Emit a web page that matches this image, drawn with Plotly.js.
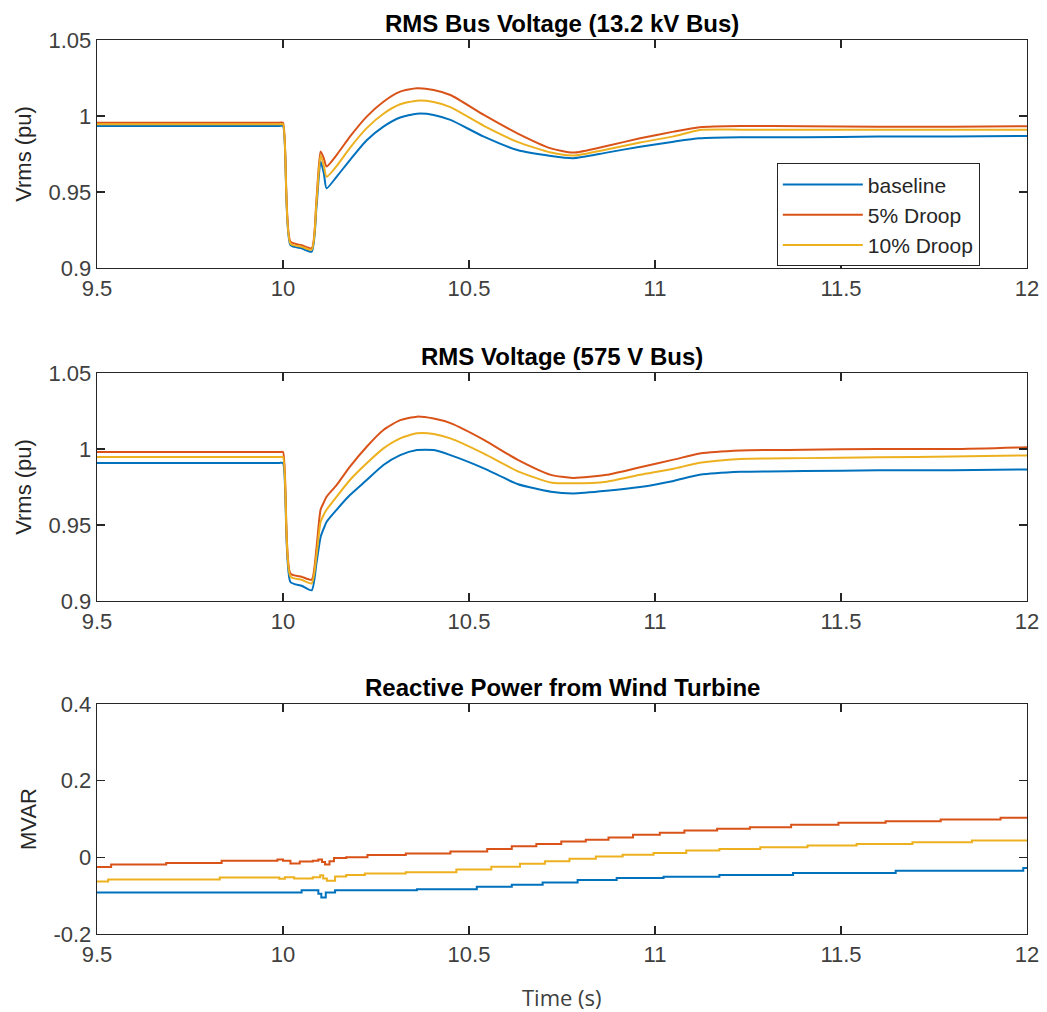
<!DOCTYPE html>
<html>
<head>
<meta charset="utf-8">
<script src="https://cdn.plot.ly/plotly-3.0.1.min.js"></script>
<style>html,body{margin:0;padding:0;background:#fff;}#chart{width:1047px;height:1012px;}</style>
</head>
<body>
<div id="chart"></div>
<script>
// ---------- data ----------
const seriesNames = ["baseline", "5% Droop", "10% Droop"];

// time samples for the voltage traces (s)
const tV = [9.5, 9.99, 10.0, 10.02, 10.05, 10.077, 10.09, 10.101, 10.11, 10.117, 10.144, 10.18, 10.225, 10.27, 10.315, 10.36, 10.405, 10.45, 10.54, 10.63, 10.72, 10.78, 10.87, 10.96, 11.05, 11.12, 11.23, 11.4, 11.6, 11.8, 12.0];

// RMS Bus Voltage (13.2 kV Bus), pu
const v13Baseline = [0.9934, 0.9934, 0.9934, 0.915, 0.913, 0.9107, 0.94, 0.970, 0.962, 0.9524, 0.960, 0.971, 0.984, 0.993, 0.999, 1.0015, 1.0007, 0.9974, 0.9864, 0.9776, 0.9737, 0.9722, 0.9759, 0.9798, 0.9831, 0.9853, 0.986, 0.986, 0.9865, 0.9865, 0.9868];
const v13Droop5 = [0.9956, 0.9956, 0.9956, 0.9173, 0.915, 0.913, 0.945, 0.9766, 0.972, 0.9667, 0.9743, 0.9864, 0.9996, 1.0094, 1.016, 1.0182, 1.0171, 1.0138, 1.0007, 0.9886, 0.9787, 0.9759, 0.9803, 0.9853, 0.9897, 0.9926, 0.9934, 0.9932, 0.993, 0.993, 0.9932];
const v13Droop10 = [0.9945, 0.9945, 0.9945, 0.916, 0.914, 0.912, 0.943, 0.974, 0.967, 0.960, 0.967, 0.979, 0.992, 1.0015, 1.0077, 1.0101, 1.0092, 1.0058, 0.9935, 0.983, 0.976, 0.974, 0.978, 0.9826, 0.9866, 0.9908, 0.991, 0.991, 0.991, 0.991, 0.991];

// RMS Voltage (575 V Bus), pu
const v575Baseline = [0.9908, 0.9908, 0.9908, 0.9125, 0.910, 0.907, 0.925, 0.942, 0.948, 0.952, 0.960, 0.9697, 0.9796, 0.9895, 0.996, 0.9993, 0.9993, 0.996, 0.9873, 0.977, 0.9719, 0.9708, 0.9725, 0.975, 0.979, 0.983, 0.985, 0.9855, 0.986, 0.986, 0.9866];
const v575Droop5 = [0.998, 0.998, 0.998, 0.918, 0.916, 0.914, 0.935, 0.960, 0.965, 0.9686, 0.9763, 0.9884, 1.0015, 1.0125, 1.019, 1.0213, 1.020, 1.017, 1.006, 0.993, 0.983, 0.981, 0.983, 0.988, 0.993, 0.997, 0.999, 0.9995, 1.0, 1.0, 1.0012];
const v575Droop10 = [0.9947, 0.9947, 0.9947, 0.916, 0.914, 0.9116, 0.93, 0.952, 0.957, 0.960, 0.9686, 0.9796, 0.9906, 1.0004, 1.007, 1.0103, 1.0099, 1.007, 0.997, 0.9855, 0.978, 0.9774, 0.9785, 0.983, 0.987, 0.991, 0.9935, 0.994, 0.9945, 0.995, 0.9958];

// Reactive Power from Wind Turbine, MVAR (stepped signals)
const tQBaseline = [9.5, 10.05, 10.095, 10.103, 10.115, 10.14, 10.36, 10.521, 10.615, 10.698, 10.792, 10.897, 11.023, 11.173, 11.371, 11.647, 11.99, 12.0];
const qBaseline = [-0.092, -0.086, -0.095, -0.105, -0.092, -0.086, -0.083, -0.077, -0.0716, -0.0655, -0.059, -0.054, -0.0506, -0.046, -0.041, -0.035, -0.028, -0.028];
const tQDroop5 = [9.5, 9.538, 9.686, 9.835, 9.985, 10.0, 10.02, 10.045, 10.08, 10.095, 10.105, 10.113, 10.125, 10.137, 10.17, 10.227, 10.33, 10.45, 10.549, 10.615, 10.681, 10.748, 10.814, 10.875, 10.941, 11.013, 11.079, 11.167, 11.255, 11.366, 11.493, 11.62, 11.768, 11.929, 12.0];
const qDroop5 = [-0.025, -0.019, -0.0147, -0.009, -0.006, -0.009, -0.016, -0.011, -0.009, -0.006, -0.012, -0.019, -0.01, -0.002, 0.0, 0.006, 0.010, 0.015, 0.022, 0.029, 0.035, 0.041, 0.046, 0.052, 0.0587, 0.064, 0.070, 0.0743, 0.0786, 0.085, 0.090, 0.094, 0.0988, 0.103, 0.103];
const tQDroop10 = [9.5, 9.53, 9.83, 9.99, 10.005, 10.03, 10.08, 10.1, 10.108, 10.118, 10.14, 10.17, 10.22, 10.33, 10.466, 10.56, 10.637, 10.704, 10.77, 10.841, 10.913, 10.996, 11.084, 11.173, 11.283, 11.41, 11.542, 11.692, 11.852, 12.0];
const qDroop10 = [-0.063, -0.058, -0.0524, -0.056, -0.052, -0.055, -0.052, -0.047, -0.055, -0.061, -0.05, -0.046, -0.042, -0.039, -0.032, -0.0244, -0.017, -0.0105, -0.004, 0.002, 0.007, 0.0115, 0.0175, 0.022, 0.026, 0.0307, 0.035, 0.0393, 0.0437, 0.0437];

// axis ticks
const xTickVals = [9.5, 10, 10.5, 11, 11.5, 12];
const xTickText = ["9.5", "10", "10.5", "11", "11.5", "12"];
const vTickVals = [0.9, 0.95, 1, 1.05];
const vTickText = ["0.9", "0.95", "1", "1.05"];
const qTickVals = [-0.2, 0, 0.2, 0.4];
const qTickText = ["-0.2", "0", "0.2", "0.4"];

const titles = ["RMS Bus Voltage (13.2 kV Bus)", "RMS Voltage (575 V Bus)", "Reactive Power from Wind Turbine"];

// ---------- styling ----------
const colors = ["#0072BD", "#D95319", "#EDB120"];
const FONT = "Liberation Sans, Arial, sans-serif";
const AX = "#262626";
const LW = 2;

function tr(x, y, i, xa, ya, show, shape) {
  const line = {color: colors[i], width: LW, shape: shape || "spline"};
  if (line.shape === "spline") line.smoothing = 0.6;
  return {
    x: x, y: y, type: "scatter", mode: "lines",
    name: seriesNames[i], legendgroup: seriesNames[i], showlegend: show,
    line: line, xaxis: xa, yaxis: ya, hoverinfo: "skip"
  };
}

const data = [
  tr(tV, v13Baseline, 0, "x", "y", true),
  tr(tV, v13Droop5, 1, "x", "y", true),
  tr(tV, v13Droop10, 2, "x", "y", true),
  tr(tV, v575Baseline, 0, "x2", "y2", false),
  tr(tV, v575Droop5, 1, "x2", "y2", false),
  tr(tV, v575Droop10, 2, "x2", "y2", false),
  tr(tQBaseline, qBaseline, 0, "x3", "y3", false, "hv"),
  tr(tQDroop5, qDroop5, 1, "x3", "y3", false, "hv"),
  tr(tQDroop10, qDroop10, 2, "x3", "y3", false, "hv")
];

function xax(anchor) {
  return {
    anchor: anchor, domain: [0, 1], range: [9.5, 12],
    tickmode: "array", tickvals: xTickVals, ticktext: xTickText,
    showline: true, mirror: "ticks", linecolor: AX, linewidth: 1.3,
    ticks: "inside", ticklen: 8, tickwidth: 1.3, tickcolor: AX,
    showgrid: false, zeroline: false,
    tickfont: {family: FONT, size: 22, color: "#404040"}
  };
}
function yax(anchor, dom, rng, tv, tt, title) {
  return {
    anchor: anchor, domain: dom, range: rng,
    tickmode: "array", tickvals: tv, ticktext: tt,
    showline: true, mirror: "ticks", linecolor: AX, linewidth: 1.3,
    ticks: "inside", ticklen: 8, tickwidth: 1.3, tickcolor: AX,
    showgrid: false, zeroline: false,
    tickfont: {family: FONT, size: 22, color: "#404040"},
    title: {text: title, font: {family: FONT, size: 22, color: "#262626"}, standoff: 10}
  };
}

const d1 = [0.745, 1.0], d2 = [0.3725, 0.6275], d3 = [0.0, 0.2573];

const layout = {
  width: 1047, height: 1012,
  margin: {l: 97, r: 20, t: 40, b: 78},
  paper_bgcolor: "#ffffff", plot_bgcolor: "#ffffff",
  font: {family: FONT, color: AX},
  showlegend: true,
  legend: {
    x: 0.731, y: 0.862, xanchor: "left", yanchor: "top",
    bgcolor: "#ffffff", bordercolor: "#262626", borderwidth: 1,
    font: {family: FONT, size: 21, color: "#262626"},
    itemwidth: 80, tracegroupgap: 0
  },
  xaxis: xax("y"), xaxis2: xax("y2"), xaxis3: xax("y3"),
  yaxis: yax("x", d1, [0.9, 1.05], vTickVals, vTickText, "Vrms (pu)"),
  yaxis2: yax("x2", d2, [0.9, 1.05], vTickVals, vTickText, "Vrms (pu)"),
  yaxis3: yax("x3", d3, [-0.2, 0.4], qTickVals, qTickText, "MVAR"),
  annotations: [
    {text: "<b>" + titles[0] + "</b>", xref: "paper", yref: "paper", x: 0.5, y: d1[1], xanchor: "center", yanchor: "bottom", yshift: 1, showarrow: false, font: {family: FONT, size: 24, color: "#000"}},
    {text: "<b>" + titles[1] + "</b>", xref: "paper", yref: "paper", x: 0.5, y: d2[1], xanchor: "center", yanchor: "bottom", yshift: 1, showarrow: false, font: {family: FONT, size: 24, color: "#000"}},
    {text: "<b>" + titles[2] + "</b>", xref: "paper", yref: "paper", x: 0.5, y: d3[1], xanchor: "center", yanchor: "bottom", yshift: 1, showarrow: false, font: {family: FONT, size: 24, color: "#000"}},
    {text: "Time (s)", xref: "paper", yref: "paper", x: 0.5, y: 0, xanchor: "center", yanchor: "middle", yshift: -63, showarrow: false, font: {family: "Open Sans, sans-serif", size: 22, color: "#404040"}}
  ]
};

Plotly.newPlot("chart", data, layout, {displayModeBar: false, staticPlot: true});
</script>
</body>
</html>
